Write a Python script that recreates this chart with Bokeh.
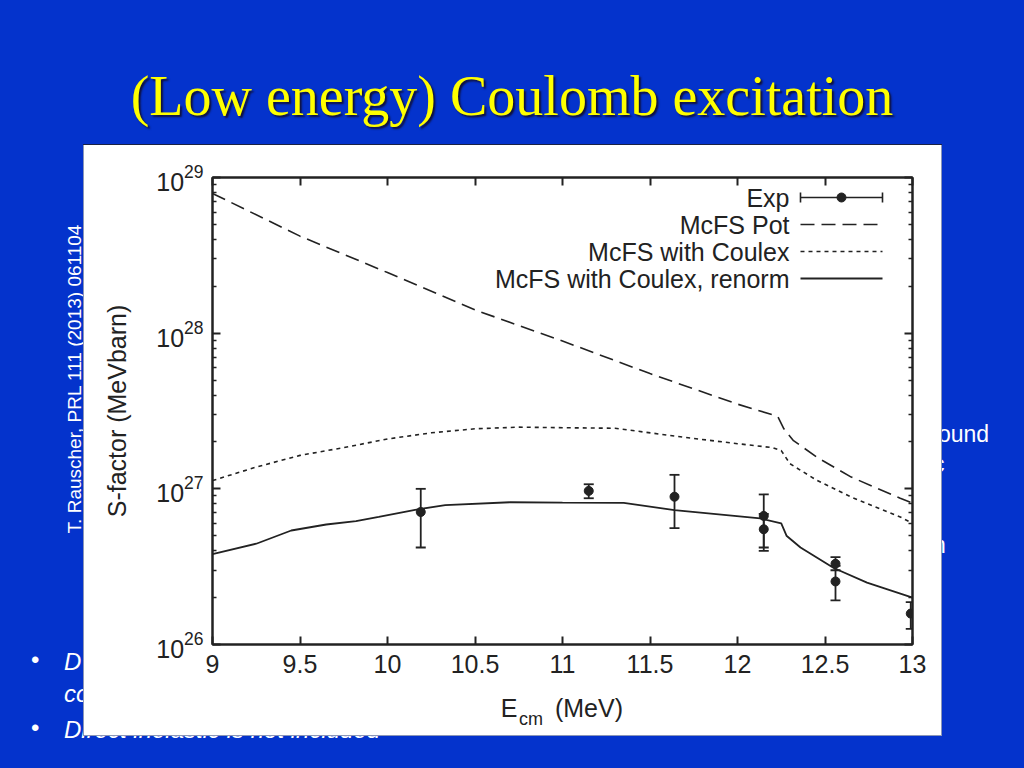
import math
from bokeh.plotting import figure
from bokeh.models import (Range1d, LinearScale, Label, Whisker, TeeHead, ColumnDataSource,
                          FixedTicker, LinearAxis, LogAxis, NumeralTickFormatter,
                          CustomJSTickFormatter, Div)
from bokeh.layouts import column, row
from bokeh.embed import file_html
from bokeh.resources import INLINE

# ---------------- data ----------------
pot_e = [9.0, 9.5, 10.0, 10.5, 11.0, 11.5, 12.0, 12.23, 12.265, 12.32, 12.46, 12.65, 12.93, 13.0]
pot_s = [7.9e28, 4.2e28, 2.45e28, 1.41e28, 8.9e27, 5.5e27, 3.5e27, 2.92e27, 2.43e27, 2.04e27,
         1.58e27, 1.19e27, 8.7e26, 8.1e26]

coul_e = [9.0, 9.25, 9.5, 9.75, 10.0, 10.25, 10.5, 10.75, 11.0, 11.3, 11.7, 12.0, 12.2, 12.25,
          12.3, 12.45, 12.65, 12.93, 13.0]
coul_s = [1.13e27, 1.38e27, 1.64e27, 1.84e27, 2.09e27, 2.29e27, 2.43e27, 2.49e27, 2.47e27,
          2.45e27, 2.14e27, 1.95e27, 1.84e27, 1.76e27, 1.45e27, 1.14e27, 8.85e26, 6.6e26, 6.0e26]

ren_e = [9.0, 9.25, 9.45, 9.65, 9.82, 9.95, 10.18, 10.33, 10.7, 11.0, 11.35, 11.64, 12.13, 12.25,
         12.28, 12.36, 12.55, 12.74, 13.0]
ren_s = [3.8e26, 4.44e26, 5.4e26, 5.9e26, 6.2e26, 6.6e26, 7.4e26, 7.85e26, 8.2e26, 8.15e26,
         8.13e26, 7.3e26, 6.45e26, 6.0e26, 5.0e26, 4.2e26, 3.1e26, 2.5e26, 2.0e26]

exp_e = [10.19, 11.15, 11.64, 12.15, 12.15, 12.56, 12.56, 12.99]
exp_s = [7.1e26, 9.7e26, 8.9e26, 6.7e26, 5.5e26, 3.3e26, 2.54e26, 1.58e26]
exp_lo = [4.2e26, 8.7e26, 5.6e26, 4.2e26, 4.0e26, 3.0e26, 1.92e26, 1.26e26]
exp_hi = [1.0e27, 1.07e27, 1.23e27, 9.2e26, 6.9e26, 3.64e26, 3.2e26, 1.87e26]

x_ticks = [9, 9.5, 10, 10.5, 11, 11.5, 12, 12.5, 13]
y_ticks = [1e26, 1e27, 1e28, 1e29]
y_minor = [m * 10.0 ** k for k in (26, 27, 28) for m in range(2, 10)]

legend_labels = ["Exp", "McFS Pot", "McFS with Coulex", "McFS with Coulex, renorm"]
x_title_parts = ["E", "(MeV)"]
x_title_sub = ["cm"]
y_title = "S-factor (MeVbarn)"

title_text = "(Low energy) Coulomb excitation"
cite_text = "T. Rauscher, PRL 111 (2013) 061104"
bullet2_text = "Direct inelastic is not included"

# ---------------- styles ----------------
BLUE = "#0433CC"
INK = "#222222"
SANS = "Liberation Sans"
FS = "25px"
EDGE = "#8a96b8"


def box(w, h, inner):
    return (f'<div style="position:relative;width:{w}px;height:{h}px;overflow:hidden;'
            f'background:{BLUE};font-family:\'{SANS}\';color:white;">{inner}</div>')


def txt(left, top, s, size, extra=""):
    return (f'<div style="position:absolute;left:{left}px;top:{top}px;white-space:nowrap;'
            f'font-size:{size}px;line-height:{size}px;{extra}">{s}</div>')


def rule(left, top, w, h, color):
    return (f'<div style="position:absolute;left:{left}px;top:{top}px;width:{w}px;'
            f'height:{h}px;background:{color};"></div>')


# ---------------- slide parts (HTML text) ----------------
title_html = box(1024, 145,
                 f'<div style="position:absolute;left:0;top:68px;width:1024px;text-align:center;'
                 f'font-family:\'Liberation Serif\';font-size:56px;line-height:56px;color:#FFFF00;'
                 f'text-shadow:2px 2px 2px #10103a;">{title_text}</div>'
                 + rule(83, 144, 859, 1, "#1a2244"))
title_div = Div(text=title_html, width=1024, height=145, margin=0)

left_html = box(84, 590,
                f'<div style="position:absolute;left:73.5px;top:234px;white-space:nowrap;'
                f'font-size:19px;line-height:19px;transform:translate(-50%,-50%) rotate(-90deg);">'
                f'{cite_text}</div>'
                + txt(31, 503, "&bull;", 24)
                + txt(64, 505, "D", 24, "font-style:italic;")
                + txt(64, 537, "co", 24, "font-style:italic;")
                + txt(31, 571, "&bull;", 24)
                + txt(64, 573, bullet2_text, 24, "font-style:italic;")
                + rule(83, 0, 1, 590, EDGE))
left_div = Div(text=left_html, width=84, height=590, margin=0)

right_html = box(83, 590,
                 txt(-3, 278, "ound", 23) + txt(-8, 308, "c", 23) + txt(-8, 389, "n", 23)
                 + rule(0, 0, 1, 590, EDGE))
right_div = Div(text=right_html, width=83, height=590, margin=0)

bottom_html = box(1024, 33,
                  txt(64, -17, bullet2_text, 24, "font-style:italic;")
                  + rule(83, 0, 859, 1, EDGE))
bottom_div = Div(text=bottom_html, width=1024, height=33, margin=0)

# ---------------- chart ----------------
p = figure(width=857, height=590, x_range=Range1d(9, 13), y_range=Range1d(1e26, 1e29),
           y_axis_type="log", output_backend="svg", toolbar_location=None, margin=0,
           min_border_left=128, min_border_right=29, min_border_top=32, min_border_bottom=91,
           background_fill_color="white", border_fill_color="white",
           outline_line_color=INK, outline_line_width=2)
p.grid.visible = False
p.extra_x_ranges = {"px": Range1d(0, 700)}
p.extra_y_ranges = {"px": Range1d(467, 0)}
p.extra_y_scales = {"px": LinearScale()}

xa = p.xaxis[0]
xa.ticker = FixedTicker(ticks=x_ticks, minor_ticks=[])
xa.formatter = NumeralTickFormatter(format="0.[0]")
xa.major_label_standoff = 10

ya = p.yaxis[0]
ya.ticker = FixedTicker(ticks=y_ticks, minor_ticks=y_minor)
ya.major_label_standoff = 9
ya.axis_label = y_title
ya.axis_label_standoff = 22
ya.axis_label_text_font = SANS
ya.axis_label_text_font_size = FS
ya.axis_label_text_font_style = "normal"
ya.axis_label_text_color = INK

blank = CustomJSTickFormatter(code="return ''")
top = LinearAxis(ticker=FixedTicker(ticks=x_ticks, minor_ticks=[]), formatter=blank,
                 major_label_standoff=0)
right = LogAxis(ticker=FixedTicker(ticks=y_ticks, minor_ticks=y_minor), formatter=blank,
                major_label_standoff=0)
p.add_layout(top, "above")
p.add_layout(right, "right")

for ax in (xa, ya, top, right):
    ax.axis_line_width = 2
    ax.axis_line_color = INK
    ax.major_tick_in = 8
    ax.major_tick_out = 0
    ax.minor_tick_in = 4
    ax.minor_tick_out = 0
    ax.major_tick_line_width = 2
    ax.major_tick_line_color = INK
    ax.minor_tick_line_width = 1.5
    ax.minor_tick_line_color = INK
    ax.major_label_text_font = SANS
    ax.major_label_text_font_size = FS
    ax.major_label_text_color = INK

# x-axis title "E_cm (MeV)" built from two label rows below the tick labels
xt1 = LinearAxis(x_range_name="px", ticker=FixedTicker(ticks=[296.5, 376.5], minor_ticks=[]),
                 formatter=CustomJSTickFormatter(args=dict(t=x_title_parts), code="return t[index]"),
                 major_label_standoff=12)
xt2 = LinearAxis(x_range_name="px", ticker=FixedTicker(ticks=[318.5], minor_ticks=[]),
                 formatter=CustomJSTickFormatter(args=dict(t=x_title_sub), code="return t[index]"),
                 major_label_standoff=-22)
for ax, fs in ((xt1, FS), (xt2, "18px")):
    ax.axis_line_color = None
    ax.major_tick_line_color = None
    ax.minor_tick_line_color = None
    ax.major_label_text_font = SANS
    ax.major_label_text_font_size = fs
    ax.major_label_text_color = INK
    p.add_layout(ax, "below")

# curves
p.line(pot_e, pot_s, line_color=INK, line_width=1.6, line_dash="14 7")
p.line(coul_e, coul_s, line_color=INK, line_width=1.6, line_dash="4 4")
p.line(ren_e, ren_s, line_color=INK, line_width=1.8)

# experimental points
src = ColumnDataSource(dict(e=exp_e, s=exp_s, lo=exp_lo, hi=exp_hi))
p.add_layout(Whisker(base="e", lower="lo", upper="hi", source=src, dimension="height",
                     line_color=INK, line_width=1.8,
                     upper_head=TeeHead(size=10, line_color=INK, line_width=1.8),
                     lower_head=TeeHead(size=10, line_color=INK, line_width=1.8)))
p.scatter("e", "s", source=src, size=9, color=INK)

# legend (glyph samples to the right of right-aligned texts)
leg_tx = 577
leg_x0, leg_x1 = 588, 670
leg_rows = [20 + i * 27 for i in range(4)]
for lab, yy in zip(legend_labels, leg_rows):
    p.add_layout(Label(x=leg_tx, y=yy, x_range_name="px", y_range_name="px", text=lab,
                       text_align="right", text_baseline="middle", text_font=SANS,
                       text_font_size=FS, text_color=INK))
kw = dict(x_range_name="px", y_range_name="px", line_color=INK)
p.segment(x0=[leg_x0], y0=[leg_rows[0]], x1=[leg_x1], y1=[leg_rows[0]], line_width=1.6, **kw)
p.segment(x0=[leg_x0, leg_x1], y0=[leg_rows[0] - 5] * 2, x1=[leg_x0, leg_x1],
          y1=[leg_rows[0] + 5] * 2, line_width=1.6, **kw)
p.scatter(x=[(leg_x0 + leg_x1) / 2], y=[leg_rows[0]], size=9, color=INK,
          x_range_name="px", y_range_name="px")
p.line(x=[leg_x0, leg_x1], y=[leg_rows[1]] * 2, line_width=1.6, line_dash="14 7", **kw)
p.line(x=[leg_x0, leg_x1], y=[leg_rows[2]] * 2, line_width=1.6, line_dash="4 4", **kw)
p.line(x=[leg_x0, leg_x1], y=[leg_rows[3]] * 2, line_width=1.8, **kw)

layout = column(title_div, row(left_div, p, right_div, spacing=0), bottom_div, spacing=0)
open("out.html", "w").write(file_html(layout, INLINE))
